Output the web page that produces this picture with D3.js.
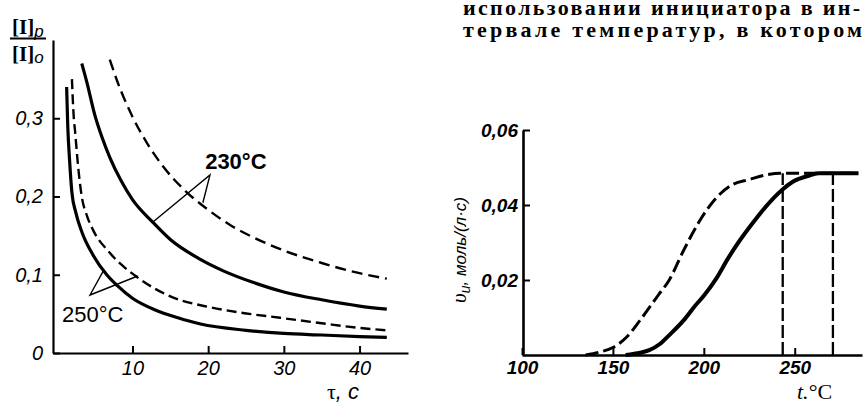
<!DOCTYPE html>
<html>
<head>
<meta charset="utf-8">
<script src="https://cdn.jsdelivr.net/npm/d3@7"></script>
<style>
  html, body { margin: 0; padding: 0; background: #fff; }
  svg { display: block; }
</style>
</head>
<body>
<div id="chart"></div>
<script>
// left panel: residual initiator fraction vs time
const tauTicks = [10, 20, 30, 40];
const ratioTicks = [0, 0.1, 0.2, 0.3];

const solid250 = [
  [1.3, 0.34], [1.45, 0.29], [1.7, 0.245], [2.0, 0.205], [2.5, 0.18], [3.3, 0.155],
  [4.8, 0.125], [6.6, 0.1], [8, 0.086], [10, 0.07], [13, 0.055], [16, 0.045],
  [19, 0.037], [25, 0.029], [30, 0.025], [35, 0.023], [40, 0.021], [43.6, 0.02],
];
const dashed250 = [
  [2.0, 0.35], [2.25, 0.3], [2.4, 0.285], [2.8, 0.24], [3.3, 0.2], [4, 0.175],
  [4.8, 0.157], [7, 0.128], [10.6, 0.097], [13, 0.082], [16.2, 0.068], [19, 0.061],
  [24, 0.052], [29.5, 0.045], [35, 0.038], [40, 0.032], [43.6, 0.029],
];
const solid230 = [
  [3.3, 0.37], [4, 0.345], [5, 0.305], [6, 0.275], [7, 0.25], [8.5, 0.22], [10, 0.196],
  [12.7, 0.167], [15, 0.145], [18.9, 0.12], [22, 0.105], [26, 0.09], [30, 0.078],
  [35, 0.068], [40, 0.06], [43.6, 0.056],
];
const dashed230 = [
  [7, 0.375], [8, 0.347], [10, 0.302], [12, 0.267], [14, 0.239], [17, 0.207],
  [20, 0.183], [23, 0.163], [26.8, 0.144], [30, 0.131], [35, 0.115], [40, 0.102], [43.6, 0.095],
];

// leader lines: curve point, apex, other curve point
const leader230 = [[19.3, 0.192], [20.24, 0.2275], [12.7, 0.1674]];
const leader250 = [[6.1, 0.104], [4.39, 0.0741], [10.7, 0.0984]];

// right panel: initiation rate vs temperature
const tempTicks = [100, 150, 200, 250];
const rateTicks = [0.02, 0.04, 0.06];

const rateSolid = [
  [157, 0], [165, 0.0006], [170, 0.0013], [176, 0.003], [181, 0.0053], [189, 0.0093],
  [195, 0.013], [200, 0.0158], [207, 0.0205], [213, 0.0255], [219, 0.0300], [225, 0.034],
  [234, 0.0395], [243, 0.044], [250, 0.0465], [257, 0.0477], [263, 0.0485], [285, 0.0485],
];
const rateDashed = [
  [135, 0], [143, 0.0008], [150, 0.002], [158, 0.005], [165, 0.0093], [175, 0.016],
  [181, 0.02], [189, 0.028], [198, 0.036], [207, 0.042], [216, 0.0455], [225, 0.0468],
  [234, 0.048], [242, 0.0485], [285, 0.0485],
];
const rateLimits = [243.4, 271];
const plateau = 0.0485;

const textLines = ["использовании инициатора в ин-", "тервале температур, в котором"];

const width = 863, height = 405;
const sans = '"Liberation Sans", Arial, sans-serif';
const serif = '"Liberation Serif", "Times New Roman", serif';

const svg = d3.select("#chart").append("svg").attr("width", width).attr("height", height);

// ---------- left panel ----------
const xL = d3.scaleLinear().domain([-0.5, 46.4]).range([53, 408]);
const yL = d3.scaleLinear().domain([0, 0.4]).range([353, 40]);
const commaFmt = (f) => (v) => (v === 0 ? "0" : d3.format(f)(v).replace(".", ","));

const left = svg.append("g");

left.append("g")
  .attr("transform", `translate(0,${yL(0)})`)
  .call(d3.axisBottom(xL).tickValues(tauTicks).tickSize(-7).tickSizeOuter(0).tickPadding(8))
  .call((g) => g.attr("font-size", 20).attr("font-family", sans).attr("font-style", "italic"));

left.append("g")
  .attr("transform", `translate(${xL(-0.5)},0)`)
  .call(d3.axisLeft(yL).tickValues(ratioTicks).tickSize(-7).tickSizeOuter(0).tickPadding(10).tickFormat(commaFmt(".1f")))
  .call((g) => g.attr("font-size", 20).attr("font-family", sans).attr("font-style", "italic"));

left.selectAll(".domain").attr("stroke-width", 2.2);
left.selectAll(".tick line").attr("stroke-width", 2);

const lineL = d3.line().x((d) => xL(d[0])).y((d) => yL(d[1])).curve(d3.curveMonotoneX);

const leftSeries = [
  { data: solid250, dash: null, w: 3.2 },
  { data: dashed250, dash: "10,5", w: 2.4 },
  { data: solid230, dash: null, w: 3.2 },
  { data: dashed230, dash: "11,6", w: 2.4 },
];
left.selectAll("path.curve")
  .data(leftSeries)
  .join("path")
  .attr("class", "curve")
  .attr("d", (d) => lineL(d.data))
  .attr("fill", "none")
  .attr("stroke", "#000")
  .attr("stroke-width", (d) => d.w)
  .attr("stroke-dasharray", (d) => d.dash);

const leaderLine = d3.line().x((d) => xL(d[0])).y((d) => yL(d[1]));
left.selectAll("path.leader")
  .data([leader230, leader250])
  .join("path")
  .attr("class", "leader")
  .attr("d", leaderLine)
  .attr("fill", "none")
  .attr("stroke", "#000")
  .attr("stroke-width", 1.4);

left.append("text")
  .attr("x", xL(19.6)).attr("y", yL(0.235))
  .attr("font-family", sans).attr("font-weight", "bold").attr("font-size", 22)
  .text("230°C");
left.append("text")
  .attr("x", xL(0.7)).attr("y", yL(0.0396))
  .attr("font-family", sans).attr("font-size", 22)
  .text("250°C");

// fraction label [I]p / [I]o
const frac = left.append("g").attr("font-family", serif).attr("font-weight", "bold").attr("font-size", 21);
const num = frac.append("text").attr("x", 12).attr("y", 34);
num.append("tspan").text("[I]");
num.append("tspan").attr("dy", 3).attr("font-style", "italic").attr("font-size", 17).attr("font-family", sans).attr("font-weight", "normal").text("p");
frac.append("line").attr("x1", 10).attr("x2", 46).attr("y1", 38.5).attr("y2", 38.5).attr("stroke", "#000").attr("stroke-width", 2);
const den = frac.append("text").attr("x", 12).attr("y", 61);
den.append("tspan").text("[I]");
den.append("tspan").attr("dy", 2).attr("font-style", "italic").attr("font-size", 17).attr("font-family", sans).attr("font-weight", "normal").text("o");

const tauLabel = left.append("text").attr("x", 327).attr("y", 399).attr("font-size", 22);
tauLabel.append("tspan").attr("font-family", serif).text("τ");
tauLabel.append("tspan").attr("font-family", sans).attr("font-style", "italic").text(", c");

// ---------- right panel ----------
const xR = d3.scaleLinear().domain([100, 287]).range([522, 862]);
const yR = d3.scaleLinear().domain([0, 0.06]).range([355, 130]);

const right = svg.append("g");

right.append("g")
  .attr("transform", `translate(0,${yR(0)})`)
  .call(d3.axisBottom(xR).tickValues(tempTicks).tickSize(-7).tickSizeOuter(0).tickPadding(6))
  .call((g) => g.attr("font-size", 19).attr("font-family", sans).attr("font-style", "italic").attr("font-weight", "bold"));

right.append("g")
  .attr("transform", `translate(${xR(100) + 1},0)`)
  .call(d3.axisLeft(yR).tickValues(rateTicks).tickSize(-7).tickSizeOuter(0).tickPadding(5).tickFormat(commaFmt(".2f")))
  .call((g) => g.attr("font-size", 19).attr("font-family", sans).attr("font-style", "italic").attr("font-weight", "bold"));

right.selectAll(".domain").attr("stroke-width", 2.6);
right.selectAll(".tick line").attr("stroke-width", 2);

const lineR = d3.line().x((d) => xR(d[0])).y((d) => yR(d[1])).curve(d3.curveMonotoneX);

right.append("path")
  .attr("d", lineR(rateDashed))
  .attr("fill", "none").attr("stroke", "#000").attr("stroke-width", 3)
  .attr("stroke-dasharray", "13,5");
right.append("path")
  .attr("d", lineR(rateSolid))
  .attr("fill", "none").attr("stroke", "#000").attr("stroke-width", 4);

right.selectAll("line.limit")
  .data(rateLimits)
  .join("line")
  .attr("class", "limit")
  .attr("x1", (d) => xR(d)).attr("x2", (d) => xR(d))
  .attr("y1", yR(0)).attr("y2", yR(plateau))
  .attr("stroke", "#000").attr("stroke-width", 2.3)
  .attr("stroke-dasharray", "13,4");

const yLab = right.append("text")
  .attr("transform", `translate(466,250) rotate(-90)`)
  .attr("text-anchor", "middle")
  .attr("font-family", sans).attr("font-style", "italic").attr("font-size", 17);
yLab.append("tspan").attr("font-family", serif).attr("font-size", 21).text("υ");
yLab.append("tspan").attr("dy", 4).attr("font-size", 14).text("и");
yLab.append("tspan").attr("dy", -4).text(", моль/(л·с)");

const tLabel = right.append("text").attr("x", 797).attr("y", 399).attr("font-family", serif).attr("font-size", 22);
tLabel.append("tspan").attr("font-style", "italic").text("t.");
tLabel.append("tspan").text("°C");

// ---------- running text top right ----------
svg.selectAll("text.body")
  .data(textLines)
  .join("text")
  .attr("class", "body")
  .attr("x", 463)
  .attr("y", (d, i) => 15 + i * 22)
  .attr("font-family", serif)
  .attr("font-weight", "bold")
  .attr("font-size", 22)
  .attr("textLength", (d, i) => (i === 0 ? 397 : 399))
  .attr("lengthAdjust", "spacing")
  .text((d) => d);
</script>
</body>
</html>
